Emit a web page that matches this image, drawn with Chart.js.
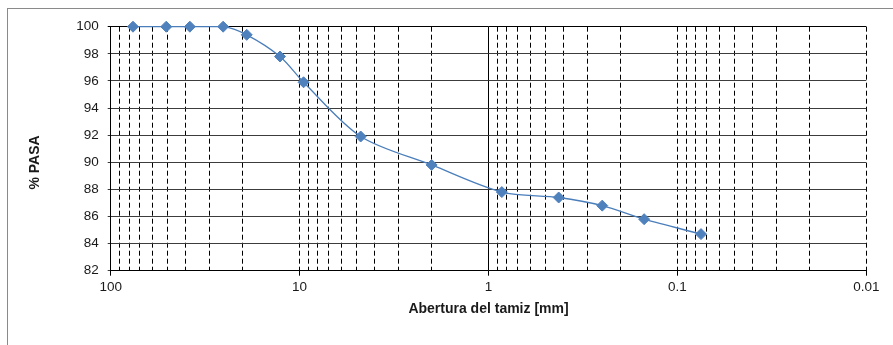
<!DOCTYPE html>
<html>
<head>
<meta charset="utf-8">
<script src="https://cdn.jsdelivr.net/npm/chart.js@4.4.1/dist/chart.umd.min.js"></script>
<style>
    html, body { margin: 0; padding: 0; background: #fff; overflow: hidden; }
    #wrap { position: relative; width: 893px; height: 345px; }
    #frame {
        position: absolute; left: 7px; top: 8px; width: 950px; height: 400px;
        border: 1px solid #8a8a8a; box-sizing: border-box;
    }
    #granulometria { position: absolute; left: 0; top: 0; }
</style>
</head>
<body>
<div id="wrap">
    <div id="frame"></div>
    <canvas id="granulometria" width="893" height="345"></canvas>
</div>
<script>
// sieve openings (mm) and percent passing
const sieveSizes = [76.2, 50.8, 38.1, 25.4, 19.05, 12.7, 9.525, 4.75, 2.0, 0.85, 0.425, 0.25, 0.15, 0.075];
const percentPassing = [100, 100, 100, 100, 99.4, 97.8, 95.9, 91.9, 89.8, 87.8, 87.4, 86.8, 85.8, 84.7];

// axis ticks
const xDecades = [100, 10, 1, 0.1, 0.01];
const xDecadeLabels = ['100', '10', '1', '0.1', '0.01'];
const xMinorSteps = [2, 3, 4, 5, 6, 7, 8, 9];
const yMin = 82;
const yMax = 100;
const yStep = 2;

const FONT = "'Liberation Sans', Arial, sans-serif";

function decadeIndex(v){
    return xDecades.findIndex(d => Math.abs(v - d) / d < 1e-6);
}

// draws the rotated y title a bit lower than the axis centre, like the original
const yTitlePlugin = {
    id: 'yTitle',
    afterDraw(chart){
        const c = chart.ctx;
        c.save();
        c.translate(35.5, 162.5);
        c.rotate(-Math.PI / 2);
        c.font = "bold 14px " + FONT;
        c.fillStyle = '#1a1a1a';
        c.textAlign = 'center';
        c.textBaseline = 'middle';
        c.fillText('% PASA', 0, 0);
        c.restore();
    }
};

const ctx = document.getElementById("granulometria").getContext("2d");

new Chart(ctx, {
    type: 'line',
    data: {
        datasets: [{
            label: '% Pasa',
            data: sieveSizes.map((s, i) => ({ x: s, y: percentPassing[i] })),
            borderColor: '#4a7ebb',
            borderWidth: 1.3,
            backgroundColor: '#4f81bd',
            pointStyle: 'rectRot',
            pointRadius: 5.5,
            pointBorderWidth: 1,
            pointBorderColor: '#4f81bd',
            tension: 0.3,
            fill: false,
            clip: false
        }]
    },
    options: {
        responsive: false,
        animation: false,
        devicePixelRatio: 1,
        layout: {
            padding: { left: 0, top: 26.7, right: 26.7, bottom: 0 }
        },
        plugins: {
            legend: { display: false },
            tooltip: { enabled: false }
        },
        scales: {
            x: {
                type: 'logarithmic',
                reverse: true,
                min: 0.01,
                max: 100,
                afterBuildTicks: function(scale){
                    const ticks = [];
                    xDecades.forEach(d => {
                        ticks.push({ value: d });
                        if (d < 100) {
                            xMinorSteps.forEach(k => ticks.push({ value: d * k }));
                        }
                    });
                    ticks.sort((a, b) => a.value - b.value);
                    scale.ticks = ticks;
                },
                afterFit: function(scale){
                    scale.height = 74.3;
                },
                ticks: {
                    autoSkip: false,
                    maxRotation: 0,
                    padding: 3,
                    color: '#1a1a1a',
                    font: { family: FONT, size: 13.5 },
                    callback: function(value){
                        const i = decadeIndex(value);
                        return i >= 0 ? xDecadeLabels[i] : '';
                    }
                },
                grid: {
                    color: '#000',
                    lineWidth: 1,
                    tickLength: 5,
                    tickColor: ctx => (ctx.tick && decadeIndex(ctx.tick.value) >= 0) ? '#000' : 'rgba(0,0,0,0)',
                    tickBorderDash: []
                },
                border: {
                    display: true,
                    color: '#000',
                    width: 1,
                    // vertical grid lines dashed, except the one at 1 mm
                    dash: ctx => (ctx.tick && Math.abs(ctx.tick.value - 1) < 1e-9) ? [] : [5, 3]
                },
                title: {
                    display: true,
                    text: 'Abertura del tamiz [mm]',
                    color: '#1a1a1a',
                    font: { family: FONT, size: 14, weight: 'bold' },
                    padding: { top: 0, bottom: 27.6 }
                }
            },
            y: {
                min: yMin,
                max: yMax,
                afterFit: function(scale){
                    scale.width = 110.7;
                },
                ticks: {
                    stepSize: yStep,
                    padding: 9,
                    color: '#1a1a1a',
                    font: { family: FONT, size: 13.5 }
                },
                grid: {
                    color: ctx => (ctx.tick && ctx.tick.value === yMax) ? '#000' : '#3c3c3c',
                    lineWidth: 1,
                    tickLength: 3
                },
                border: { display: true, color: '#000', width: 1 }
            }
        }
    },
    plugins: [yTitlePlugin]
});
</script>
</body>
</html>
